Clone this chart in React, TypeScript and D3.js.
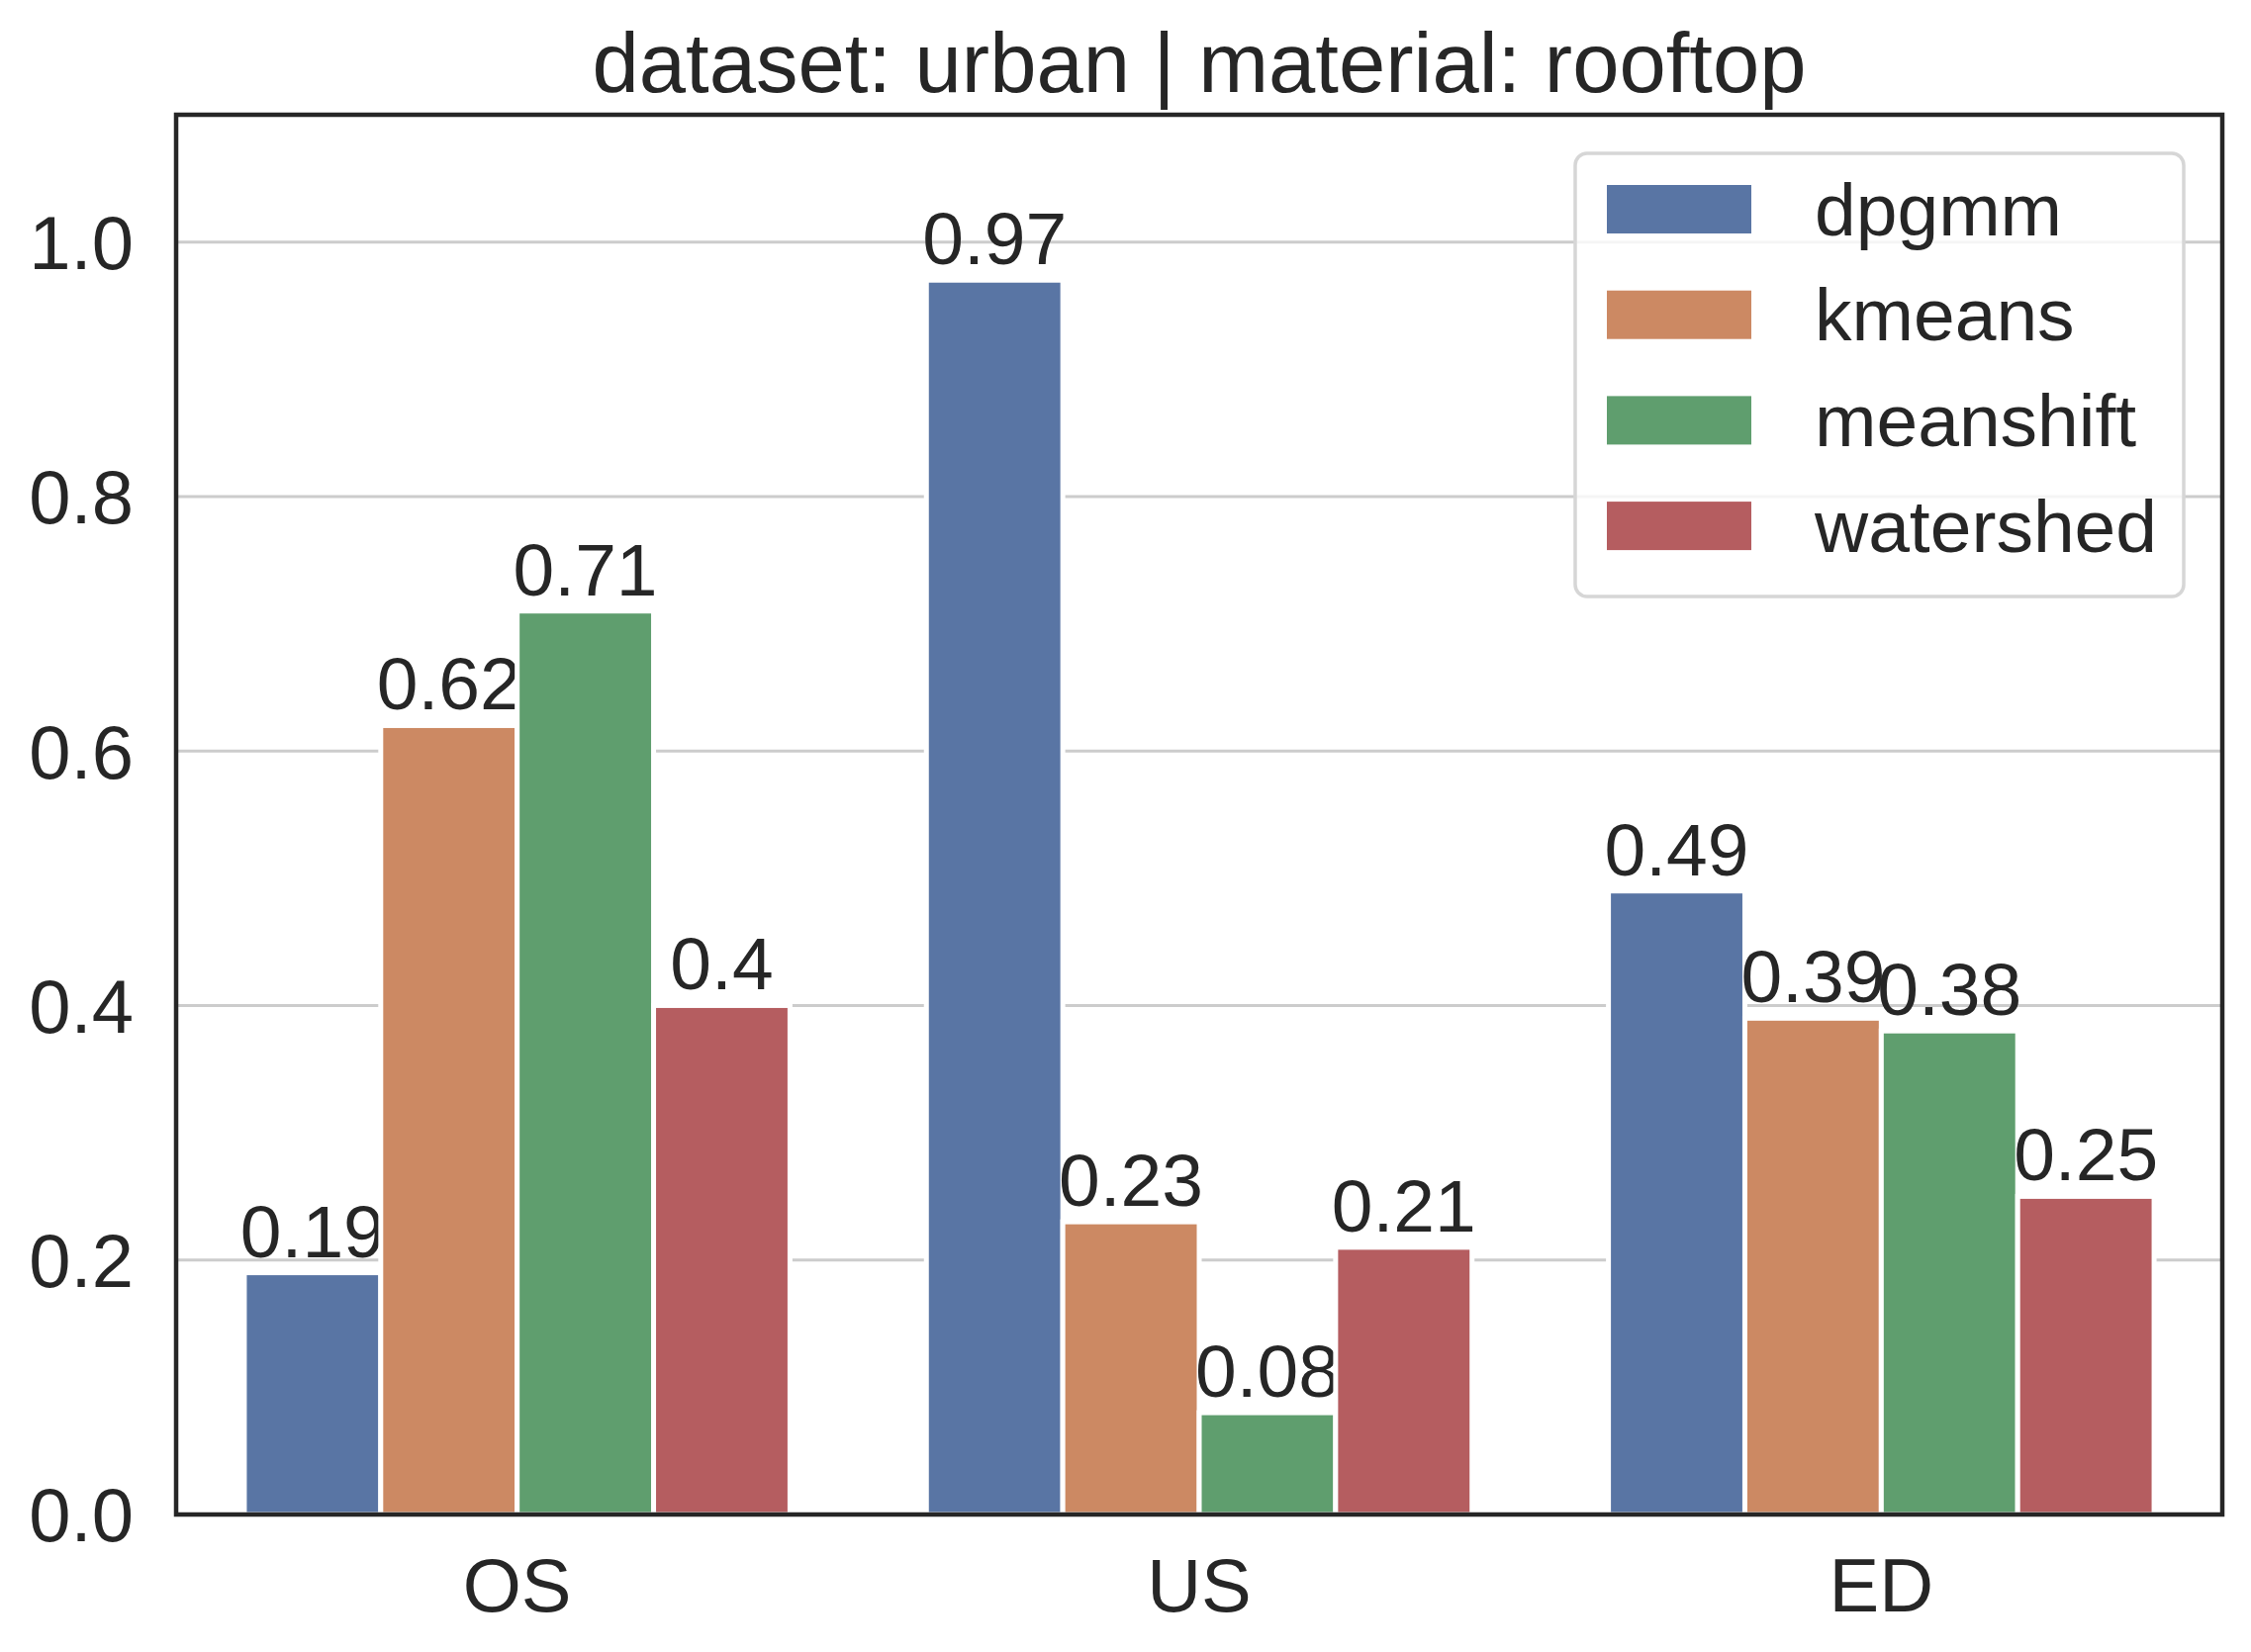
import React from "react";
import * as d3 from "d3";

const categories = ["OS", "US", "ED"];
const methods = ["dpgmm", "kmeans", "meanshift", "watershed"];
const colors = ["#5975a4", "#cc8963", "#5f9e6e", "#b55d60"];
// one array per method, in category order
const dpgmm = [0.19, 0.97, 0.49];
const kmeans = [0.62, 0.23, 0.39];
const meanshift = [0.71, 0.08, 0.38];
const watershed = [0.4, 0.21, 0.25];
const series = [dpgmm, kmeans, meanshift, watershed];
const yTicks = [0, 0.2, 0.4, 0.6, 0.8, 1.0];
const title = "dataset: urban | material: rooftop";

const W = 2275;
const H = 1670;
const margin = { top: 116, right: 29, bottom: 139, left: 178 };
const ink = "#262626";
const font = "'Liberation Sans', Arial, sans-serif";

export default function App() {
  const innerW = W - margin.left - margin.right;
  const innerH = H - margin.top - margin.bottom;

  const x = d3.scaleLinear().domain([-0.5, categories.length - 0.5]).range([0, innerW]);
  const y = d3.scaleLinear().domain([0, 1.1]).range([innerH, 0]);
  const barW = 0.8 / methods.length;

  return (
    <svg
      width={W}
      height={H}
      style={{ position: "absolute", left: 0, top: 0, background: "#fff" }}
      fontFamily={font}
    >
      <rect width={W} height={H} fill="#fff" />
      <text x={margin.left + innerW / 2} y={93} textAnchor="middle" fontSize={85} fill={ink}>
        {title}
      </text>
      <g transform={`translate(${margin.left},${margin.top})`}>
        {yTicks.map((t) => (
          <g key={t}>
            <line x1={0} x2={innerW} y1={y(t)} y2={y(t)} stroke="#cccccc" strokeWidth={3} />
            <text x={-43} y={y(t)} dy="0.36em" textAnchor="end" fontSize={76} fill={ink}>
              {d3.format(".1f")(t)}
            </text>
          </g>
        ))}

        {series.map((vals, j) =>
          vals.map((v, i) => {
            const x0 = x(i - 0.4 + j * barW);
            const x1 = x(i - 0.4 + (j + 1) * barW);
            return (
              <g key={`${j}-${i}`}>
                <rect
                  x={x0}
                  y={y(v)}
                  width={x1 - x0}
                  height={y(0) - y(v)}
                  fill={colors[j]}
                  stroke="#fff"
                  strokeWidth={5}
                />
                <text
                  x={(x0 + x1) / 2}
                  y={y(v) - 16}
                  textAnchor="middle"
                  fontSize={75}
                  fill={ink}
                >
                  {String(v)}
                </text>
              </g>
            );
          })
        )}

        {categories.map((c, i) => (
          <text key={c} x={x(i)} y={innerH + 98} textAnchor="middle" fontSize={76} fill={ink}>
            {c}
          </text>
        ))}

        <rect
          x={0}
          y={0}
          width={innerW}
          height={innerH}
          fill="none"
          stroke={ink}
          strokeWidth={4.5}
        />

        {/* legend, upper right */}
        <g transform={`translate(${1592 - margin.left},${155 - margin.top})`}>
          <rect
            x={0}
            y={0}
            width={615}
            height={448}
            rx={12}
            fill="#fff"
            fillOpacity={0.8}
            stroke="#d6d6d6"
            strokeWidth={3.5}
          />
          {methods.map((m, j) => {
            const cy = 56.5 + j * 106.7;
            return (
              <g key={m}>
                <rect x={32} y={cy - 24.5} width={146} height={49} fill={colors[j]} />
                <text x={242} y={cy} dy="0.35em" fontSize={75} fill={ink}>
                  {m}
                </text>
              </g>
            );
          })}
        </g>
      </g>
    </svg>
  );
}
